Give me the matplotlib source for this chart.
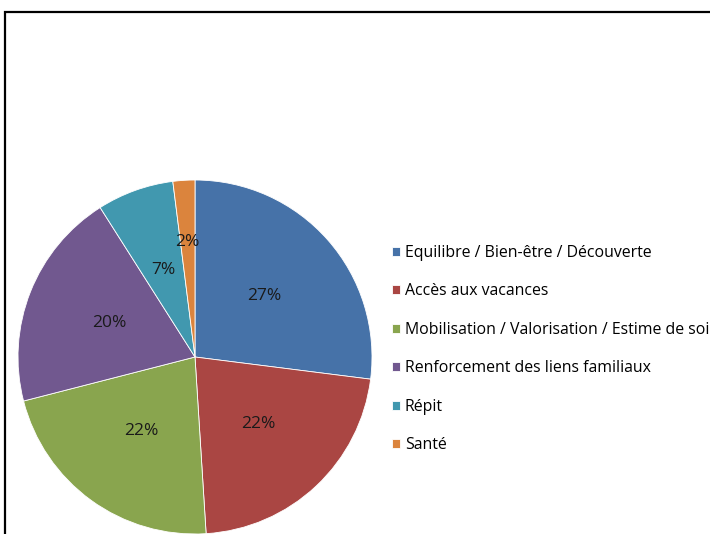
import matplotlib.pyplot as plt
from matplotlib.patches import Rectangle

# Data
labels = ['Equilibre / Bien-être / Découverte', 'Accès aux vacances',
          'Mobilisation / Valorisation / Estime de soi',
          'Renforcement des liens familiaux', 'Répit', 'Santé']
values = [27, 22, 22, 20, 7, 2]
colors = ['#4672A8', '#AA4643', '#89A54E', '#71588F', '#4198AF', '#DB843D']

plt.rcParams['font.family'] = ['Open Sans', 'DejaVu Sans']

fig = plt.figure(figsize=(7.1, 5.34), dpi=100)

# frame around the chart area (open on right/bottom as in the crop)
fig.patches.append(Rectangle((5 / 710, -0.1), 1.2, (534 - 12) / 534 + 0.1,
                             transform=fig.transFigure, fill=False,
                             edgecolor='black', linewidth=1.6))

cx, cy, r = 195, 357, 177
ax = fig.add_axes([(cx - r) / 710, (534 - cy - r) / 534, 2 * r / 710, 2 * r / 534])
wedges, texts, autotexts = ax.pie(values, colors=colors, startangle=90, counterclock=False,
                                  autopct='%d%%', pctdistance=0.52,
                                  wedgeprops=dict(edgecolor='white', linewidth=0.6),
                                  textprops=dict(fontsize=12.5, color='#1a1a1a'))
for w in wedges:
    w.set_clip_on(False)
# small slice label sits further out
x, y = autotexts[5].get_position()
autotexts[5].set_position((x * 0.65 / 0.52, y * 0.65 / 0.52))
ax.set_xlim(-1, 1)
ax.set_ylim(-1, 1)
ax.set_aspect('equal')
ax.axis('off')

leg = fig.legend(wedges, labels, loc='upper left', bbox_to_anchor=(392 / 710, 1 - 245 / 534),
                 frameon=False, fontsize=11.4, handlelength=0.5, handleheight=0.5,
                 handletextpad=0.3, labelspacing=1.42, borderaxespad=0, borderpad=0)

fig.savefig('out.png', dpi=100)
